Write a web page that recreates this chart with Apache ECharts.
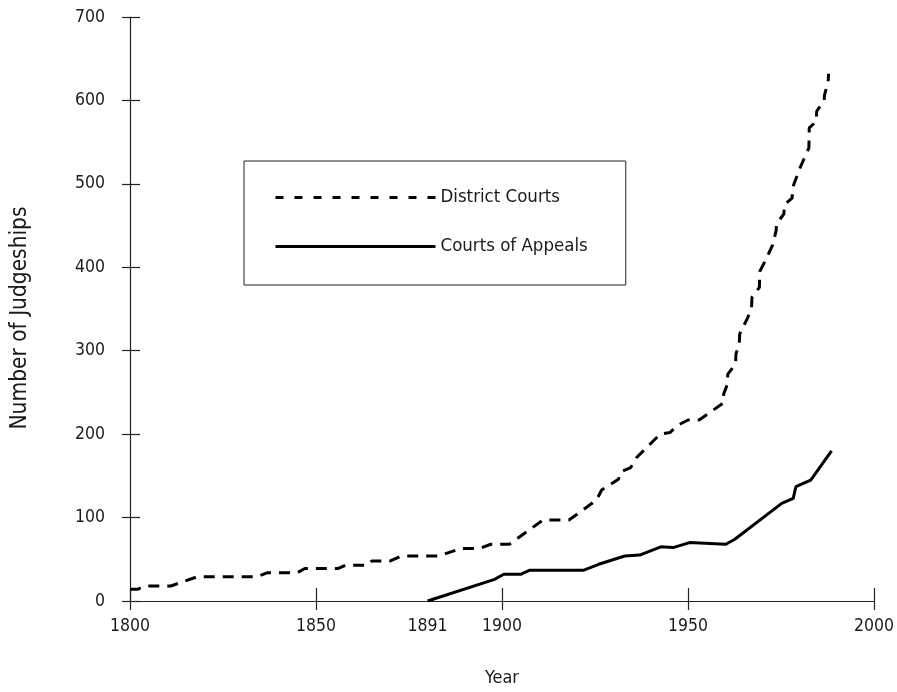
<!DOCTYPE html>
<html>
<head>
<meta charset="utf-8">
<script src="https://cdn.jsdelivr.net/npm/echarts@6/dist/echarts.min.js"></script>
<style>
  html, body { margin: 0; padding: 0; background: #fff; }
  #chart { width: 897px; height: 692px; }
</style>
</head>
<body>
<div id="chart"></div>
<script>
// ---- Data ----
const districtYears = [1800, 1802, 1804, 1811, 1818, 1834, 1837, 1845, 1847, 1856, 1858, 1864, 1865, 1870, 1873, 1883, 1889, 1894, 1897, 1902, 1911, 1918, 1925.4, 1926.8, 1931.3, 1932, 1934.6, 1936.2, 1942.5, 1945.2, 1947, 1950, 1953, 1959.4, 1959.6, 1960.6, 1960.7, 1962.8, 1962.9, 1963.8, 1963.9, 1966.1, 1967.1, 1967.2, 1969.2, 1969.3, 1970.7, 1972.8, 1973.7, 1973.8, 1975.8, 1975.9, 1978.0, 1978.1, 1980.1, 1982.5, 1982.6, 1984.5, 1984.6, 1986.6, 1986.7, 1987.7, 1987.8];
const districtJudges = [14, 14, 18, 18, 29, 29, 34, 34, 39, 39, 43, 43, 48, 48, 54, 54, 63, 63, 68, 68, 97, 97, 121, 133, 146, 155, 160, 172, 200, 202, 210, 217, 217, 237, 248, 260, 272, 284, 296, 309, 320, 340, 352, 364, 376, 395, 407, 427, 444, 452, 464, 475, 483, 495, 519, 543, 567, 575, 587, 600, 606, 624, 632];

const appealsYears = [1880, 1898, 1900.5, 1905, 1907.5, 1922, 1926, 1933, 1937, 1942.7, 1946, 1950.4, 1960.2, 1962.6, 1975.2, 1978.3, 1979, 1983, 1988.6];
const appealsJudges = [0, 26, 32, 32, 37, 37, 44, 54, 55, 65, 64, 70, 68, 74, 117, 123, 137, 145, 180];

const seriesNames = ['District Courts', 'Courts of Appeals'];
const xLabelValues = [1800, 1850, 1880, 1900, 1950, 2000];
const xLabelTexts = ['1800', '1850', '1891', '1900', '1950', '2000'];
const yTickValues = [0, 100, 200, 300, 400, 500, 600, 700];
const xAxisName = 'Year';
const yAxisName = 'Number of Judgeships';

// ---- Build chart ----
const zip = (xs, ys) => xs.map((x, i) => [x, ys[i]]);
const FONT = "'DejaVu Sans Condensed', 'Liberation Sans Narrow', 'Liberation Sans', Arial, sans-serif";
const FS = 17.5;
const TXT = '#1a1a1a';
const AX = '#222';

const chart = echarts.init(document.getElementById('chart'), null, { renderer: 'canvas' });
chart.setOption({
  animation: false,
  backgroundColor: '#fff',
  textStyle: { fontFamily: FONT, color: TXT },
  grid: { left: 130, right: 23, top: 17, bottom: 91, containLabel: false },
  legend: {
    orient: 'vertical',
    left: 244, top: 161,
    padding: [27, 38, 29, 30],
    itemGap: 30,
    itemWidth: 160, itemHeight: 14,
    borderColor: '#222', borderWidth: 1,
    itemStyle: { opacity: 0 },
    textStyle: { fontFamily: FONT, fontSize: 18.5, color: TXT },
    data: [
      { name: seriesNames[0], lineStyle: { type: [8, 11], width: 3 } },
      { name: seriesNames[1], lineStyle: { type: 'solid', width: 3 } }
    ]
  },
  xAxis: [{
    type: 'value', min: 1800, max: 2000, interval: 50,
    name: xAxisName, nameLocation: 'middle', nameGap: 68,
    nameTextStyle: { fontFamily: FONT, fontSize: 18, color: TXT },
    axisLine: { show: true, lineStyle: { color: AX, width: 1.2 } },
    axisTick: { show: true, inside: true, length: 13, lineStyle: { color: AX, width: 1.2 } },
    axisLabel: {
      customValues: xLabelValues,
      formatter: v => xLabelTexts[xLabelValues.indexOf(v)],
      margin: 16, fontFamily: FONT, fontSize: FS, color: TXT
    },
    splitLine: { show: false }
  }, {
    type: 'value', min: 1800, max: 2000, interval: 50, position: 'bottom',
    axisLine: { show: false },
    axisTick: { show: true, inside: false, length: 9, lineStyle: { color: AX, width: 1.2 } },
    axisLabel: { show: false },
    splitLine: { show: false }
  }],
  yAxis: [{
    type: 'value', min: 0, max: 700, interval: 100,
    name: yAxisName, nameLocation: 'middle', nameGap: 98,
    nameTextStyle: { fontFamily: FONT, fontSize: 22.5, color: TXT, padding: [0, 18, 0, 0] },
    axisLine: { show: true, lineStyle: { color: AX, width: 1.2 } },
    axisTick: { show: true, inside: true, length: 10, lineStyle: { color: AX, width: 1.2 } },
    axisLabel: { customValues: yTickValues, margin: 25, fontFamily: FONT, fontSize: FS, color: TXT },
    splitLine: { show: false }
  }, {
    type: 'value', min: 0, max: 700, interval: 100, position: 'left',
    axisLine: { show: false },
    axisTick: { show: true, inside: false, length: 8, lineStyle: { color: AX, width: 1.2 } },
    axisLabel: { show: false },
    splitLine: { show: false }
  }],
  series: [{
    name: seriesNames[0], type: 'line', xAxisIndex: 0, yAxisIndex: 0,
    data: zip(districtYears, districtJudges),
    showSymbol: false, symbol: 'none',
    lineStyle: { color: '#000', width: 3, type: [11, 8] },
    itemStyle: { color: '#000' }
  }, {
    name: seriesNames[1], type: 'line', xAxisIndex: 0, yAxisIndex: 0,
    data: zip(appealsYears, appealsJudges),
    showSymbol: false, symbol: 'none',
    lineStyle: { color: '#000', width: 3, type: 'solid' },
    itemStyle: { color: '#000' }
  }]
});
</script>
</body>
</html>
